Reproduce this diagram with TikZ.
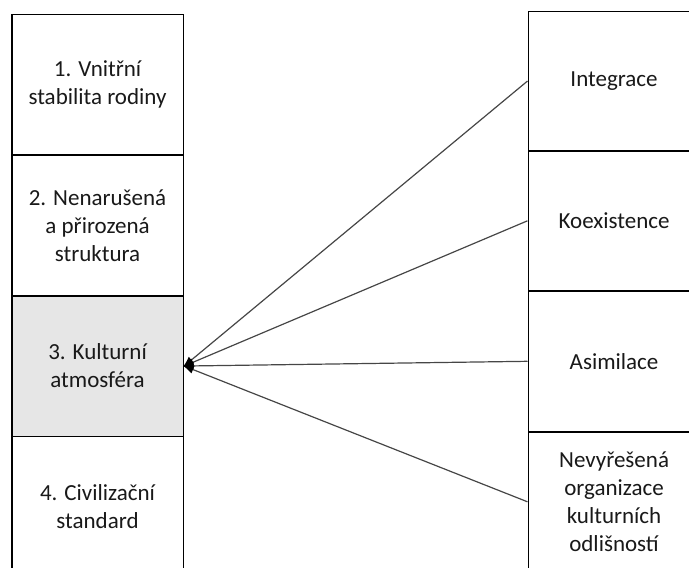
\documentclass[tikz,border=0pt]{standalone}
\usepackage{fontspec}
\setmainfont{Carlito}
\usetikzlibrary{arrows.meta}
\definecolor{txt}{RGB}{25,25,25}
\definecolor{hl}{RGB}{230,230,230}
\definecolor{link}{RGB}{70,70,70}
\begin{document}
\begin{tikzpicture}[x=1pt,y=-1pt,
  cell/.style={draw=black,line width=1.6pt,fill=white,minimum width=171.5pt,
    minimum height=140.5pt,anchor=north west,align=center,text=txt,
    font=\fontsize{23}{28}\selectfont,inner sep=0pt},
  conn/.style={draw=link,line width=1.2pt,
    -{Latex[length=11pt,width=8.5pt,color=black]},shorten >=-1.5pt}]
\useasboundingbox (0,0) rectangle (689,568);
\clip (0,0) rectangle (689,568);
% left column: family environment factors
\node[cell] (l1) at (11,13.5) {1. Vnitřní\\stabilita rodiny};
\node[cell] (l2) at (11,154.5) {2. Nenarušená\\a přirozená\\struktura};
\node[cell,fill=hl] (l3) at (11,295) {3. Kulturní\\atmosféra};
\node[cell] (l4) at (11,435.5) {4. Civilizační\\standard};
% right column: acculturation outcomes
\node[cell,minimum height=139.5pt] (r1) at (527.5,10.5) {Integrace};
\node[cell,minimum height=140pt] (r2) at (527.5,150) {Koexistence};
\node[cell,minimum height=141pt] (r3) at (527.5,290) {Asimilace};
\node[cell,minimum height=140pt] (r4) at (527.5,431) {Nevyřešená\\organizace\\kulturních\\odlišností};
% connectors converging on the cultural atmosphere
\foreach \r in {r1,r2,r3,r4}
  \draw[conn] (\r.west) -- (l3.east);
\end{tikzpicture}
\end{document}
